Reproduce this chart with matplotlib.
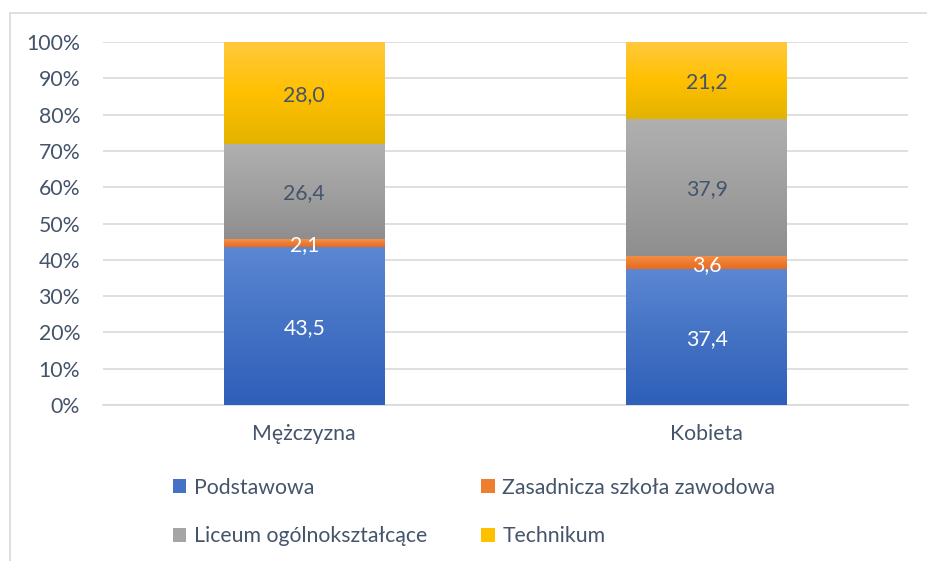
import matplotlib
matplotlib.use("Agg")
import matplotlib.pyplot as plt
import numpy as np
from matplotlib.colors import LinearSegmentedColormap
from matplotlib.patches import Rectangle, Patch

plt.rcParams['font.family'] = ['Lato', 'DejaVu Sans']

categories = ["Mężczyzna", "Kobieta"]
series_names = ["Podstawowa", "Zasadnicza szkoła zawodowa", "Liceum ogólnokształcące", "Technikum"]
podstawowa = [43.5, 37.4]
zasadnicza = [2.1, 3.6]
liceum = [26.4, 37.9]
technikum = [28.0, 21.2]
values = [podstawowa, zasadnicza, liceum, technikum]
labels_txt = [["43,5", "37,4"], ["2,1", "3,6"], ["26,4", "37,9"], ["28,0", "21,2"]]

grads = [
    ["#2E5FB9", "#4472C4", "#5B87D3"],
    ["#E86A1E", "#ED7D31", "#F4914A"],
    ["#8E8E8E", "#A0A0A0", "#B0B0B0"],
    ["#E3B300", "#FFC000", "#FFC93D"],
]
solid = ["#4472C4", "#ED7D31", "#A5A5A5", "#FFC000"]
label_colors = ["white", "white", "#44546A", "#44546A"]
text_col = "#44546A"
grid_col = "#D9D9D9"
FS = 15.3

fig = plt.figure(figsize=(9.27, 5.61), dpi=100)
W, H = 927, 561
ax = fig.add_axes([103 / W, 1 - 405 / H, (908 - 103) / W, (405 - 42) / H])

x = np.arange(len(categories))
width = 0.4
bottoms = np.zeros(len(categories))
for si, vals in enumerate(values):
    vals = np.array(vals)
    tot = np.array([sum(v[i] for v in values) for i in range(len(categories))])
    frac = vals / tot * 100
    bars = ax.bar(x, frac, width, bottom=bottoms, color=solid[si], zorder=2, label=series_names[si])
    cmap = LinearSegmentedColormap.from_list("g%d" % si, grads[si])
    grad = np.linspace(0, 1, 256).reshape(-1, 1)
    for bi, b in enumerate(bars):
        x0, y0 = b.get_x(), b.get_y()
        w, h = b.get_width(), b.get_height()
        ax.imshow(grad, cmap=cmap, origin="lower", aspect="auto",
                  extent=[x0, x0 + w, y0, y0 + h], zorder=3, interpolation="bilinear")
        ax.text(x0 + w / 2, y0 + h / 2 - 0.5, labels_txt[si][bi], ha="center", va="center",
                color=label_colors[si], fontsize=FS, zorder=5)
    bottoms = bottoms + frac

ax.set_xlim(-0.5, 1.5)
ax.set_ylim(0, 100)
ax.set_yticks(np.arange(0, 101, 10))
ax.set_yticklabels(["%d%%" % v for v in range(0, 101, 10)])
ax.set_xticks(x)
ax.set_xticklabels(categories)
ax.yaxis.grid(True, color=grid_col, linewidth=1.2, zorder=0)
ax.set_axisbelow(True)
for s in ["top", "right", "left"]:
    ax.spines[s].set_visible(False)
ax.spines["bottom"].set_color(grid_col)
ax.spines["bottom"].set_linewidth(1.2)
ax.tick_params(axis="both", length=0, labelsize=FS, colors=text_col)
ax.tick_params(axis="y", pad=16.5)
ax.tick_params(axis="x", pad=14)

handles = [Patch(facecolor=solid[i], edgecolor="none") for i in [0, 2, 1, 3]]
names = [series_names[i] for i in [0, 2, 1, 3]]
leg = fig.legend(handles, names, ncol=2, loc="center", bbox_to_anchor=(474 / W, 1 - 512 / H),
                 frameon=False, fontsize=FS, handlelength=0.65, handleheight=0.65,
                 handletextpad=0.35, columnspacing=2.55, labelspacing=1.35)
for t in leg.get_texts():
    t.set_color(text_col)

fig.add_artist(Rectangle((10 / W, -0.1), 1.2, 1 - 13 / H + 0.1, transform=fig.transFigure,
                         fill=False, edgecolor=grid_col, linewidth=1.2))

fig.savefig("out.png", dpi=100, facecolor="white")
